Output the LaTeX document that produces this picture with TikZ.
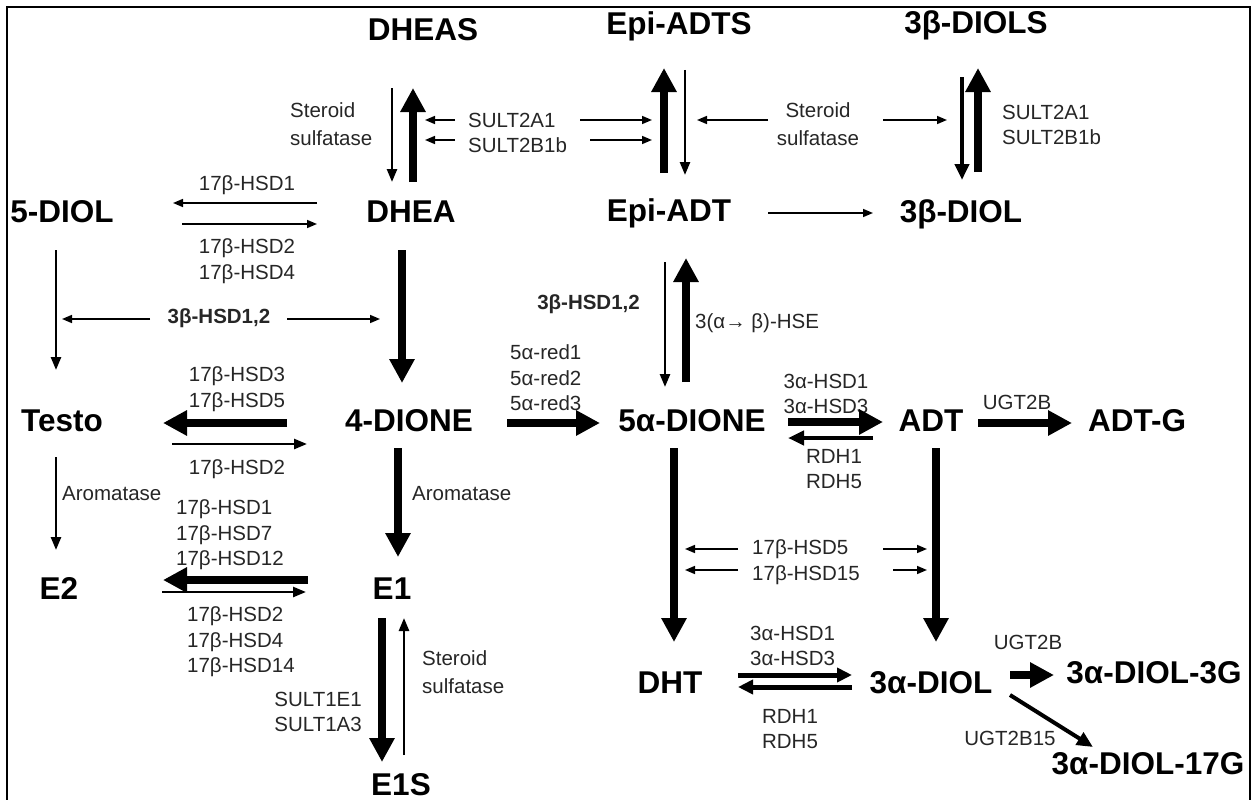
\documentclass[tikz,border=0pt]{standalone}
\usepackage{fontspec}
\setmainfont{Liberation Sans}
\usetikzlibrary{arrows.meta}
\begin{document}
\begin{tikzpicture}[x=1pt,y=-1pt,
  big/.style={font=\fontsize{31.5}{34}\selectfont\bfseries, inner sep=0pt, text height=22.5pt, text depth=0pt},
  lab/.style={font=\fontsize{20.5}{25.5}\selectfont, inner sep=0pt, text=black!85},
  labw/.style={lab, font=\fontsize{20.5}{28}\selectfont},
  blab/.style={lab, font=\fontsize{20.5}{25.5}\selectfont\bfseries},
  thinar/.style={line width=1.6pt, -{Triangle[length=10pt,width=8pt]}},
  slimar/.style={line width=2.5pt, -{Triangle[length=13pt,width=10pt]}},
  medar/.style={line width=4pt, -{Triangle[length=16pt,width=14pt]}},
  pairar/.style={line width=5pt, -{Triangle[length=15pt,width=14pt]}},
  thickar/.style={line width=8pt, -{Triangle[length=24pt,width=24pt]}},
]
\useasboundingbox (0,0) rectangle (1255,800);
\draw[line width=1.5pt] (7,7) rectangle (1250,840);

% metabolites
\node[big] (dheas)    at (423,29)  {DHEAS};
\node[big] (epiadts)  at (679,23)  {Epi-ADTS};
\node[big] (bdiols)   at (976,22)  {3β-DIOLS};
\node[big] (diolfive) at (62,211)  {5-DIOL};
\node[big] (dhea)     at (411,211) {DHEA};
\node[big] (epiadt)   at (669,210) {Epi-ADT};
\node[big] (bdiol)    at (961,211) {3β-DIOL};
\node[big] (testo)    at (62,420)  {Testo};
\node[big] (dionefour) at (409,420) {4-DIONE};
\node[big] (dionea)   at (692,420) {5α-DIONE};
\node[big] (adt)      at (931,420) {ADT};
\node[big] (adtg)     at (1137,420) {ADT-G};
\node[big] (etwo)     at (59,588)  {E2};
\node[big] (eone)     at (392,588) {E1};
\node[big] (eones)    at (401,784) {E1S};
\node[big] (dht)      at (670,682) {DHT};
\node[big] (adiol)    at (931,682) {3α-DIOL};
\node[big] (adiolg)   at (1154,672) {3α-DIOL-3G};
\node[big] (adiolgg)  at (1148,763) {3α-DIOL-17G};

% enzyme labels
\node[labw, anchor=west, align=left] (ssa) at (290,124) {Steroid\\sulfatase};
\node[lab, anchor=west, align=left] (sulta) at (468,133) {SULT2A1\\SULT2B1b};
\node[labw, align=center] (ssb) at (818,124) {Steroid\\sulfatase};
\node[lab, anchor=west, align=left] (sultb) at (1002,125) {SULT2A1\\SULT2B1b};
\node[lab] (hsda) at (247,185) {17β-HSD1};
\node[lab, align=center] (hsdb) at (247,261) {17β-HSD2\\17β-HSD4};
\node[blab] (bhsda) at (219,318) {3β-HSD1,2};
\node[lab, align=center] (hsdc) at (237,389) {17β-HSD3\\17β-HSD5};
\node[lab] (hsdd) at (237,469) {17β-HSD2};
\node[lab, anchor=west] (aroa) at (62,494) {Aromatase};
\node[lab, anchor=west] (arob) at (412,494) {Aromatase};
\node[lab, anchor=west, align=left] (hsde) at (176,535) {17β-HSD1\\17β-HSD7\\17β-HSD12};
\node[lab, anchor=west, align=left] (hsdf) at (187,642) {17β-HSD2\\17β-HSD4\\17β-HSD14};
\node[lab, anchor=east, align=right] (sultc) at (362,712) {SULT1E1\\SULT1A3};
\node[labw, anchor=west, align=left] (ssc) at (422,672) {Steroid\\sulfatase};
\node[lab, anchor=west, align=left] (reda) at (510,378) {5α-red1\\5α-red2\\5α-red3};
\node[blab, anchor=east] (bhsdb) at (640,304) {3β-HSD1,2};
\node[lab, anchor=west] (hse) at (695,323) {3(α→ β)-HSE};
\node[lab, align=center] (ahsda) at (826,394) {3α-HSD1\\3α-HSD3};
\node[lab, align=center] (rdha) at (834,469) {RDH1\\RDH5};
\node[lab] (ugta) at (1017,402) {UGT2B};
\node[lab, anchor=west, align=left] (hsdg) at (752,562) {17β-HSD5\\17β-HSD15};
\node[lab, anchor=west, align=left] (ahsdb) at (750,646) {3α-HSD1\\3α-HSD3};
\node[lab, align=center] (rdhb) at (790,729) {RDH1\\RDH5};
\node[lab] (ugtb) at (1028,642) {UGT2B};
\node[lab] (ugtc) at (1010,738) {UGT2B15};

% DHEA / DHEAS
\draw[slimar] (392,88) -- (392,182);
\draw[thickar] (413,182) -- (413,88);
\draw[thinar] (455,120) -- (425,120);
\draw[thinar] (455,140) -- (425,140);
\draw[thinar] (580,120) -- (652,120);
\draw[thinar] (590,140) -- (652,140);
% Epi-ADT / Epi-ADTS
\draw[thickar] (664,173) -- (664,68);
\draw[slimar] (685,70) -- (685,175);
\draw[thinar] (768,120) -- (697,120);
\draw[thinar] (883,120) -- (947,120);
% 3b-DIOL / 3b-DIOLS
\draw[medar] (962,77) -- (962,180);
\draw[thickar] (978,172) -- (978,68);
\draw[thinar] (768,213) -- (873,213);
% DHEA <-> 5-DIOL
\draw[thinar] (317,203) -- (173,203);
\draw[thinar] (182,224) -- (317,224);
\draw[slimar] (56,250) -- (56,370);
\draw[thinar] (150,319) -- (62,319);
\draw[thinar] (287,319) -- (380,319);
\draw[thickar] (402,250) -- (402,383);
% Testo <-> 4-DIONE
\draw[thickar] (287,423) -- (163,423);
\draw[slimar] (172,444) -- (307,444);
\draw[thickar] (507,423) -- (600,423);
% Epi-ADT <-> 5a-DIONE
\draw[slimar] (665,262) -- (665,387);
\draw[thickar] (686,382) -- (686,258);
% 5a-DIONE <-> ADT
\draw[thickar] (788,422) -- (883,422);
\draw[medar] (873,438) -- (788,438);
\draw[thickar] (978,423) -- (1072,423);
% estrogens
\draw[slimar] (56,457) -- (56,550);
\draw[thickar] (398,448) -- (398,557);
\draw[thickar] (308,580) -- (163,580);
\draw[slimar] (162,592) -- (306,592);
\draw[thickar] (382,618) -- (382,762);
\draw[slimar] (404,755) -- (404,618);
% DHT / 3a-DIOL
\draw[thickar] (674,448) -- (674,642);
\draw[thickar] (936,448) -- (936,642);
\draw[thinar] (738,549) -- (685,549);
\draw[thinar] (738,570) -- (685,570);
\draw[thinar] (883,549) -- (927,549);
\draw[thinar] (893,570) -- (927,570);
\draw[pairar] (738,675) -- (852,675);
\draw[pairar] (852,687) -- (738,687);
\draw[thickar] (1010,675) -- (1054,675);
\draw[medar] (1010,695) -- (1093,747);
\end{tikzpicture}
\end{document}
